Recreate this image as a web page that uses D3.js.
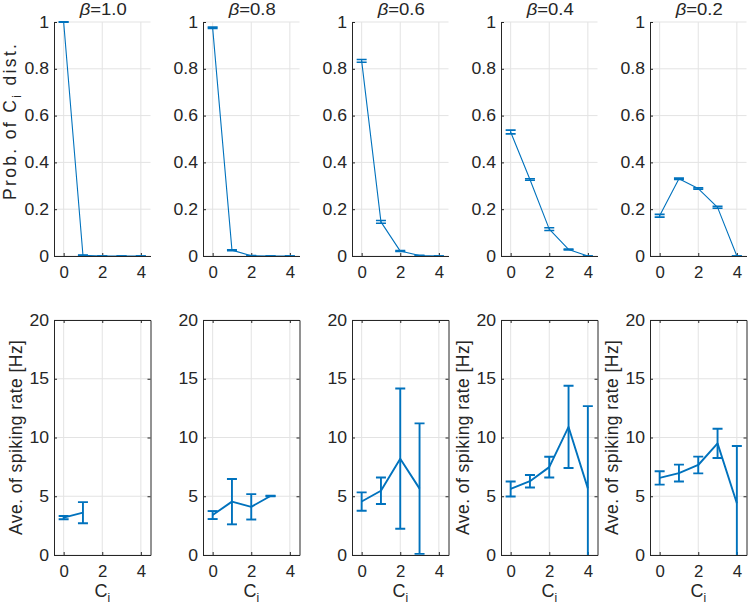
<!DOCTYPE html>
<html>
<head>
<meta charset="utf-8">
<script src="https://cdn.jsdelivr.net/npm/d3@7"></script>
<style>
  html, body { margin: 0; padding: 0; background: #fff; }
  svg { display: block; }
  text { font-family: "Liberation Sans", Arial, Helvetica, sans-serif; fill: #262626; }
</style>
</head>
<body>
<svg id="chart" width="748" height="605"></svg>
<script>
// ---- data ----
const betas = ["1.0", "0.8", "0.6", "0.4", "0.2"];
const ciValues = [0, 1, 2, 3, 4];
const xTicks = [0, 2, 4];
const probTicks = [0, 0.2, 0.4, 0.6, 0.8, 1];
const rateTicks = [0, 5, 10, 15, 20];

const probMean = [
  [1.000, 0.003, 0.000, 0.000, 0.000],
  [0.975, 0.025, 0.001, 0.000, 0.000],
  [0.834, 0.146, 0.021, 0.002, 0.000],
  [0.530, 0.327, 0.115, 0.028, 0.000],
  [0.172, 0.330, 0.288, 0.208, 0.000]
];
const probErr = [
  [0.001, 0.001, 0.000, 0.000, 0.000],
  [0.003, 0.002, 0.001, 0.000, 0.000],
  [0.006, 0.006, 0.002, 0.001, 0.000],
  [0.008, 0.003, 0.006, 0.002, 0.000],
  [0.006, 0.003, 0.003, 0.004, 0.000]
];
const rateMean = [
  [3.18, 3.60, null, null, null],
  [3.40, 4.54, 4.10, 5.02, null],
  [4.55, 5.47, 8.20, 5.65, null],
  [5.62, 6.28, 7.48, 10.90, 5.67],
  [6.56, 6.97, 7.66, 9.50, 4.40]
];
const rateErr = [
  [0.14, 0.90, null, null, null],
  [0.34, 1.93, 1.08, 0.02, null],
  [0.78, 1.13, 5.97, 5.55, null],
  [0.64, 0.53, 0.88, 3.50, 7.00],
  [0.57, 0.72, 0.71, 1.25, 4.88]
];
const rateLabelPanels = [0, 3, 4];

// ---- layout ----
const svg = d3.select("#chart");
const blue = "#0072BD";
const axisCol = "#262626";
const gridCol = "#e3e3e3";
const panelLeft0 = 54, panelStep = 149, panelW = 96.5;
const rows = [
  { top: 22, bottom: 256, domain: [0, 1], ticks: probTicks, fmt: d => String(d), box: false,
    mean: probMean, err: probErr, lw: 1.1, capW: 1.6 },
  { top: 320, bottom: 555, domain: [0, 20], ticks: rateTicks, fmt: d => String(d), box: true,
    mean: rateMean, err: rateErr, lw: 1.9, capW: 1.9 }
];
const capHalf = 5;
const tickLen = 3;

function stretch(sel, factor) {
  sel.each(function () {
    const w = this.getComputedTextLength();
    d3.select(this).attr("textLength", w * factor).attr("lengthAdjust", "spacingAndGlyphs");
  });
}

rows.forEach((row, r) => {
  betas.forEach((b, p) => {
    const left = panelLeft0 + p * panelStep;
    const x = d3.scaleLinear().domain([-0.5, 4.5]).range([left, left + panelW]);
    const y = d3.scaleLinear().domain(row.domain).range([row.bottom, row.top]);
    const g = svg.append("g");

    const clipId = `clip-${r}-${p}`;
    svg.append("clipPath").attr("id", clipId).append("rect")
      .attr("x", left).attr("y", row.top - 1).attr("width", panelW).attr("height", row.bottom - row.top + 1);

    // grid
    g.selectAll(".gx").data(xTicks).join("line")
      .attr("x1", d => x(d)).attr("x2", d => x(d))
      .attr("y1", row.top).attr("y2", row.bottom)
      .attr("stroke", gridCol).attr("stroke-width", 1);
    g.selectAll(".gy").data(row.ticks).join("line")
      .attr("x1", left).attr("x2", left + panelW)
      .attr("y1", d => y(d)).attr("y2", d => y(d))
      .attr("stroke", gridCol).attr("stroke-width", 1);

    // axes (ticks inward)
    const yAxis = d3.axisLeft(y).tickValues(row.ticks).tickFormat(row.fmt)
      .tickSizeInner(-tickLen).tickSizeOuter(0).tickPadding(5);
    const xAxis = d3.axisBottom(x).tickValues(xTicks).tickFormat(d => String(d))
      .tickSizeInner(-tickLen).tickSizeOuter(0).tickPadding(11);
    const ya = g.append("g").attr("transform", `translate(${left},0)`).call(yAxis);
    const xa = g.append("g").attr("transform", `translate(0,${row.bottom})`).call(xAxis);
    [ya, xa].forEach(a => {
      a.select(".domain").attr("stroke", axisCol).attr("stroke-width", 1);
      a.selectAll(".tick line").attr("stroke", axisCol);
      a.selectAll(".tick text").attr("font-size", 16).attr("fill", axisCol)
        .style("font-family", '"Liberation Sans", Arial, sans-serif');
    });
    stretch(ya.selectAll(".tick text"), 1.1);
    stretch(xa.selectAll(".tick text"), 1.05);
    if (row.box) {
      const ta = g.append("g").attr("transform", `translate(0,${row.top})`)
        .call(d3.axisTop(x).tickValues(xTicks).tickFormat("").tickSizeInner(-tickLen).tickSizeOuter(0));
      const ra = g.append("g").attr("transform", `translate(${left + panelW},0)`)
        .call(d3.axisRight(y).tickValues(row.ticks).tickFormat("").tickSizeInner(-tickLen).tickSizeOuter(0));
      [ta, ra].forEach(a => {
        a.select(".domain").attr("stroke", axisCol).attr("stroke-width", 1);
        a.selectAll(".tick line").attr("stroke", axisCol);
      });
    }

    // data
    const pts = ciValues.map((c, i) => ({ c, m: row.mean[p][i], e: row.err[p][i] }))
      .filter(d => d.m !== null);
    const dg = g.append("g").attr("clip-path", `url(#${clipId})`);
    dg.append("path").datum(pts)
      .attr("d", d3.line().x(d => x(d.c)).y(d => y(d.m)))
      .attr("fill", "none").attr("stroke", blue).attr("stroke-width", row.lw)
      .attr("stroke-linejoin", "round");
    dg.selectAll(".eb").data(pts).join("line")
      .attr("x1", d => x(d.c)).attr("x2", d => x(d.c))
      .attr("y1", d => y(d.m - d.e)).attr("y2", d => y(d.m + d.e))
      .attr("stroke", blue).attr("stroke-width", row.lw);
    ["lo", "hi"].forEach(k => {
      dg.selectAll(".cap" + k).data(pts).join("line")
        .attr("x1", d => x(d.c) - capHalf).attr("x2", d => x(d.c) + capHalf)
        .attr("y1", d => y(k === "lo" ? d.m - d.e : d.m + d.e))
        .attr("y2", d => y(k === "lo" ? d.m - d.e : d.m + d.e))
        .attr("stroke", blue).attr("stroke-width", row.capW);
    });

    // titles
    if (r === 0) {
      const t = svg.append("text").attr("x", left + panelW / 2 + 1).attr("y", 15)
        .attr("text-anchor", "middle").attr("font-size", 16.5);
      t.append("tspan").attr("font-style", "italic").text("β");
      t.append("tspan").text("=" + b);
      stretch(t, 1.12);
    }
    // x label bottom row
    if (r === 1) {
      const t = svg.append("text").attr("x", left + panelW / 2).attr("y", 597)
        .attr("text-anchor", "middle").attr("font-size", 18);
      t.append("tspan").text("C");
      t.append("tspan").attr("font-size", 12).attr("dy", 5).text("i");
    }
    // y labels
    if (r === 0 && p === 0) {
      const t = svg.append("text")
        .attr("transform", `translate(${left - 38},${122}) rotate(-90)`)
        .attr("text-anchor", "middle").attr("font-size", 17.5);
      t.append("tspan").text("Prob. of C");
      t.append("tspan").attr("font-size", 12).attr("dy", 5).text("i");
      t.append("tspan").attr("dy", -5).text(" dist.");
      t.attr("textLength", 156).attr("lengthAdjust", "spacing");
    }
    if (r === 1 && rateLabelPanels.includes(p)) {
      const t = svg.append("text")
        .attr("transform", `translate(${left - 32},${(row.top + row.bottom) / 2}) rotate(-90)`)
        .attr("text-anchor", "middle").attr("font-size", 17.5)
        .text("Ave. of spiking rate [Hz]");
      t.attr("textLength", 195).attr("lengthAdjust", "spacing");
    }
  });
});
</script>
</body>
</html>
